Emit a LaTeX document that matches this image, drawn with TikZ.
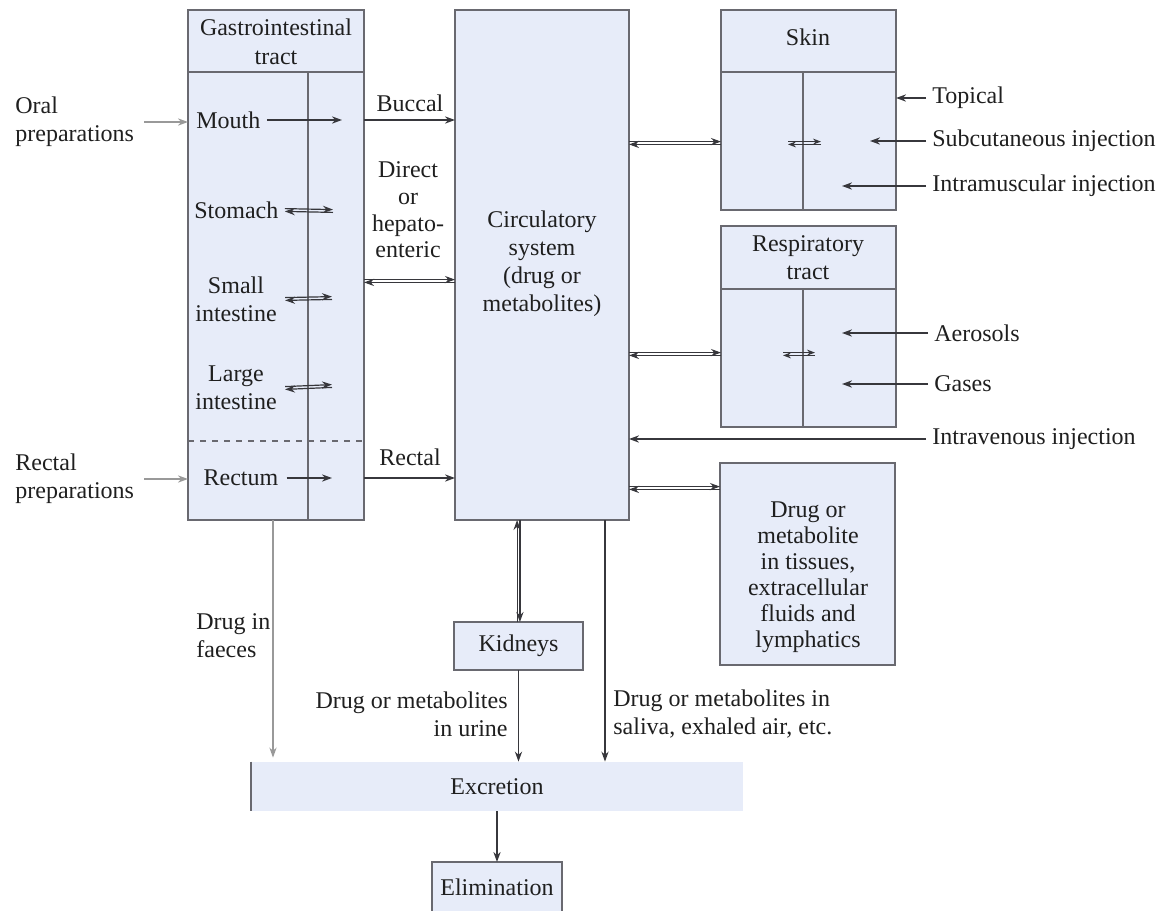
\documentclass[tikz,border=0pt]{standalone}
\usepackage{fontspec}
\setmainfont{Liberation Serif}
\usepackage{xcolor}
\usetikzlibrary{arrows.meta}
\definecolor{organfill}{RGB}{231,236,249}
\definecolor{organline}{RGB}{105,105,112}
\definecolor{flowgray}{RGB}{55,55,60}

\tikzset{
  lbl/.style={align=center, inner sep=1pt, text=black!88, font=\fontsize{12}{14}\selectfont},
  organ/.style={lbl, draw=organline, fill=organfill, line width=1pt, inner sep=0pt, outer sep=0pt},
  divline/.style={draw=organline, line width=0.9pt},
  flow/.style={draw=flowgray, line width=0.75pt, -{Stealth[length=5pt,width=3.6pt]}},
  flowlite/.style={flow, draw=black!40},
  pairup/.style={line width=0.6pt, transform canvas={yshift=0.7pt}},
  pairdn/.style={line width=0.6pt, transform canvas={yshift=-0.7pt}},
  pairlf/.style={line width=0.6pt, transform canvas={xshift=-0.7pt}},
  pairrt/.style={line width=0.6pt, transform canvas={xshift=0.7pt}}
}

\begin{document}
\begin{tikzpicture}[x=0.5pt,y=-0.5pt]
  \useasboundingbox (0,0) rectangle (1164,911);
  \clip (0,0) rectangle (1164,911);

  % boxes
  \node[organ, minimum width=88pt, minimum height=255pt] (gi) at (276,265) {};
  \node[organ, minimum width=87pt, minimum height=255pt] (circ) at (542,265) {};
  \node[organ, minimum width=87.5pt, minimum height=100pt] (skin) at (808.5,110) {};
  \node[organ, minimum width=87.5pt, minimum height=100.5pt] (resp) at (808.5,326.5) {};
  \node[organ, minimum width=87.5pt, minimum height=101pt] (tiss) at (807.5,564) {};
  \node[organ, minimum width=64.5pt, minimum height=24pt] (kid) at (518.5,646) {Kidneys};
  \node[lbl, fill=organfill, inner sep=0pt, minimum width=246pt, minimum height=24.5pt] (excr) at (497,786.5) {Excretion};
  \node[organ, minimum width=65pt, minimum height=25pt] (elim) at (497,887) {Elimination};
  \draw[divline] (excr.north west) -- (excr.south west);

  % headers and dividers
  \coordinate (gidiv) at (308,72);
  \coordinate (skindiv) at (803,72);
  \coordinate (respdiv) at (803,289);
  \coordinate (ydash) at (0,441);
  \draw[divline] (gi.west |- gidiv) -- (gi.east |- gidiv);
  \draw[divline] (gidiv) -- (gidiv |- gi.south);
  \draw[divline, dashed] (gi.west |- ydash) -- (gi.east |- ydash);
  \draw[divline] (skin.west |- skindiv) -- (skin.east |- skindiv);
  \draw[divline] (skindiv) -- (skindiv |- skin.south);
  \draw[divline] (resp.west |- respdiv) -- (resp.east |- respdiv);
  \draw[divline] (respdiv) -- (respdiv |- resp.south);

  % texts
  \node[lbl, font=\fontsize{12}{14.5}\selectfont] (gihead) at (276,42) {Gastrointestinal\\tract};
  \node[lbl, anchor=west] (mouth) at (194,120) {Mouth};
  \node[lbl, anchor=west] (stom) at (192,210) {Stomach};
  \node[lbl] (small) at (236,299) {Small\\intestine};
  \node[lbl] (large) at (236,388) {Large\\intestine};
  \node[lbl] (rect) at (241,478) {Rectum};
  \node[lbl, anchor=west, align=left] (oral) at (13,122) {Oral\\preparations};
  \node[lbl, anchor=west, align=left] (rprep) at (13,479) {Rectal\\preparations};
  \node[lbl] (bucc) at (410,103) {Buccal};
  \node[lbl, font=\fontsize{12}{13.3}\selectfont] (direct) at (408,210) {Direct\\or\\hepato-\\enteric};
  \node[lbl] (rectl) at (410,457) {Rectal};
  \node[lbl] (circtxt) at (542,264) {Circulatory\\system\\(drug or\\metabolites)};
  \node[lbl] (skintxt) at (808,37) {Skin};
  \node[lbl] (resptxt) at (808,258) {Respiratory\\tract};
  \node[lbl, anchor=west] (topic) at (930,98) {Topical};
  \node[lbl, anchor=west] (subcut) at (930,141) {Subcutaneous injection};
  \node[lbl, anchor=west] (intram) at (930,186) {Intramuscular injection};
  \node[lbl, anchor=west] (aeros) at (932,333) {Aerosols};
  \node[lbl, anchor=west] (gases) at (932,384) {Gases};
  \node[lbl, anchor=west] (iv) at (930,439) {Intravenous injection};
  \node[lbl, font=\fontsize{12}{13}\selectfont] (tisstxt) at (808,577) {Drug or\\metabolite\\in tissues,\\extracellular\\fluids and\\lymphatics};
  \node[lbl, anchor=west, align=left] (faeces) at (194,636) {Drug in\\faeces};
  \node[lbl, anchor=east, align=right] (urine) at (510,714) {Drug or metabolites\\in urine};
  \node[lbl, anchor=west, align=left] (saliva) at (611,714) {Drug or metabolites in\\saliva, exhaled air, etc.};

  % free ends
  \coordinate (mouthtip) at (342,120);
  \coordinate (stomr) at (333,211);
  \coordinate (smallr) at (332,298);
  \coordinate (larger) at (332,386);
  \coordinate (recttip) at (332,478);
  \coordinate (yhep) at (0,281);
  \coordinate (yskin) at (0,143);
  \coordinate (yresp) at (0,354);
  \coordinate (ytiss) at (0,488);
  \coordinate (skinin) at (788,143);
  \coordinate (skinout) at (821,143);
  \coordinate (respin) at (783,354);
  \coordinate (respout) at (815,354);
  \coordinate (subtip) at (870,141);
  \coordinate (intip) at (842,186);
  \coordinate (aertip) at (842,333);
  \coordinate (gastip) at (842,384);
  \coordinate (xfaec) at (273,0);
  \coordinate (xsal) at (605,0);

  % gastrointestinal tract
  \draw[flowlite] ([xshift=4pt]oral.east) -- (oral.east -| gi.west);
  \draw[flowlite] ([xshift=4pt]rprep.east) -- (rprep.east -| gi.west);
  \draw[flow] ([xshift=2pt]mouth.east) -- (mouthtip);
  \draw[flow] (gi.east |- mouthtip) -- (circ.west |- mouthtip);
  \draw[flow, pairup] ([xshift=2pt]stom.east) -- (stomr);
  \draw[flow, pairdn] (stomr) -- ([xshift=2pt]stom.east);
  \draw[flow, pairup] ([xshift=3pt]small.east) -- (smallr);
  \draw[flow, pairdn] (smallr) -- ([xshift=3pt]small.east);
  \draw[flow, pairup] ([xshift=3pt]large.east) -- (larger);
  \draw[flow, pairdn] (larger) -- ([xshift=3pt]large.east);
  \draw[flow] ([xshift=3pt]rect.east) -- (recttip);
  \draw[flow] (gi.east |- recttip) -- (circ.west |- recttip);
  \draw[flow, pairup] (gi.east |- yhep) -- (circ.west |- yhep);
  \draw[flow, pairdn] (circ.west |- yhep) -- (gi.east |- yhep);

  % skin and respiratory tract
  \draw[flow, pairup] (circ.east |- yskin) -- (skin.west |- yskin);
  \draw[flow, pairdn] (skin.west |- yskin) -- (circ.east |- yskin);
  \draw[flow, pairup, -{Stealth[length=4pt,width=3pt]}] (skinin) -- (skinout);
  \draw[flow, pairdn, -{Stealth[length=4pt,width=3pt]}] (skinout) -- (skinin);
  \draw[flow] ([xshift=-2pt]topic.west) -- (skin.east |- topic.west);
  \draw[flow] ([xshift=-2pt]subcut.west) -- (subtip);
  \draw[flow] ([xshift=-2pt]intram.west) -- (intip);
  \draw[flow, pairup] (circ.east |- yresp) -- (resp.west |- yresp);
  \draw[flow, pairdn] (resp.west |- yresp) -- (circ.east |- yresp);
  \draw[flow, pairup, -{Stealth[length=4pt,width=3pt]}] (respin) -- (respout);
  \draw[flow, pairdn, -{Stealth[length=4pt,width=3pt]}] (respout) -- (respin);
  \draw[flow] ([xshift=-2pt]aeros.west) -- (aertip);
  \draw[flow] ([xshift=-2pt]gases.west) -- (gastip);
  \draw[flow] ([xshift=-2pt]iv.west) -- (circ.east |- iv.west);

  % tissues and kidneys
  \draw[flow, pairup] (circ.east |- ytiss) -- (tiss.west |- ytiss);
  \draw[flow, pairdn] (tiss.west |- ytiss) -- (circ.east |- ytiss);
  \draw[flow, pairlf] (kid.north) -- (kid.north |- circ.south);
  \draw[flow, pairrt] (kid.north |- circ.south) -- (kid.north);

  % excretion
  \draw[flowlite, shorten >=2pt] (gi.south -| xfaec) -- (excr.north -| xfaec);
  \draw[flow] (kid.south) -- (kid.south |- excr.north);
  \draw[flow] (circ.south -| xsal) -- (excr.north -| xsal);
  \draw[flow] (excr.south) -- (elim.north);
\end{tikzpicture}
\end{document}
